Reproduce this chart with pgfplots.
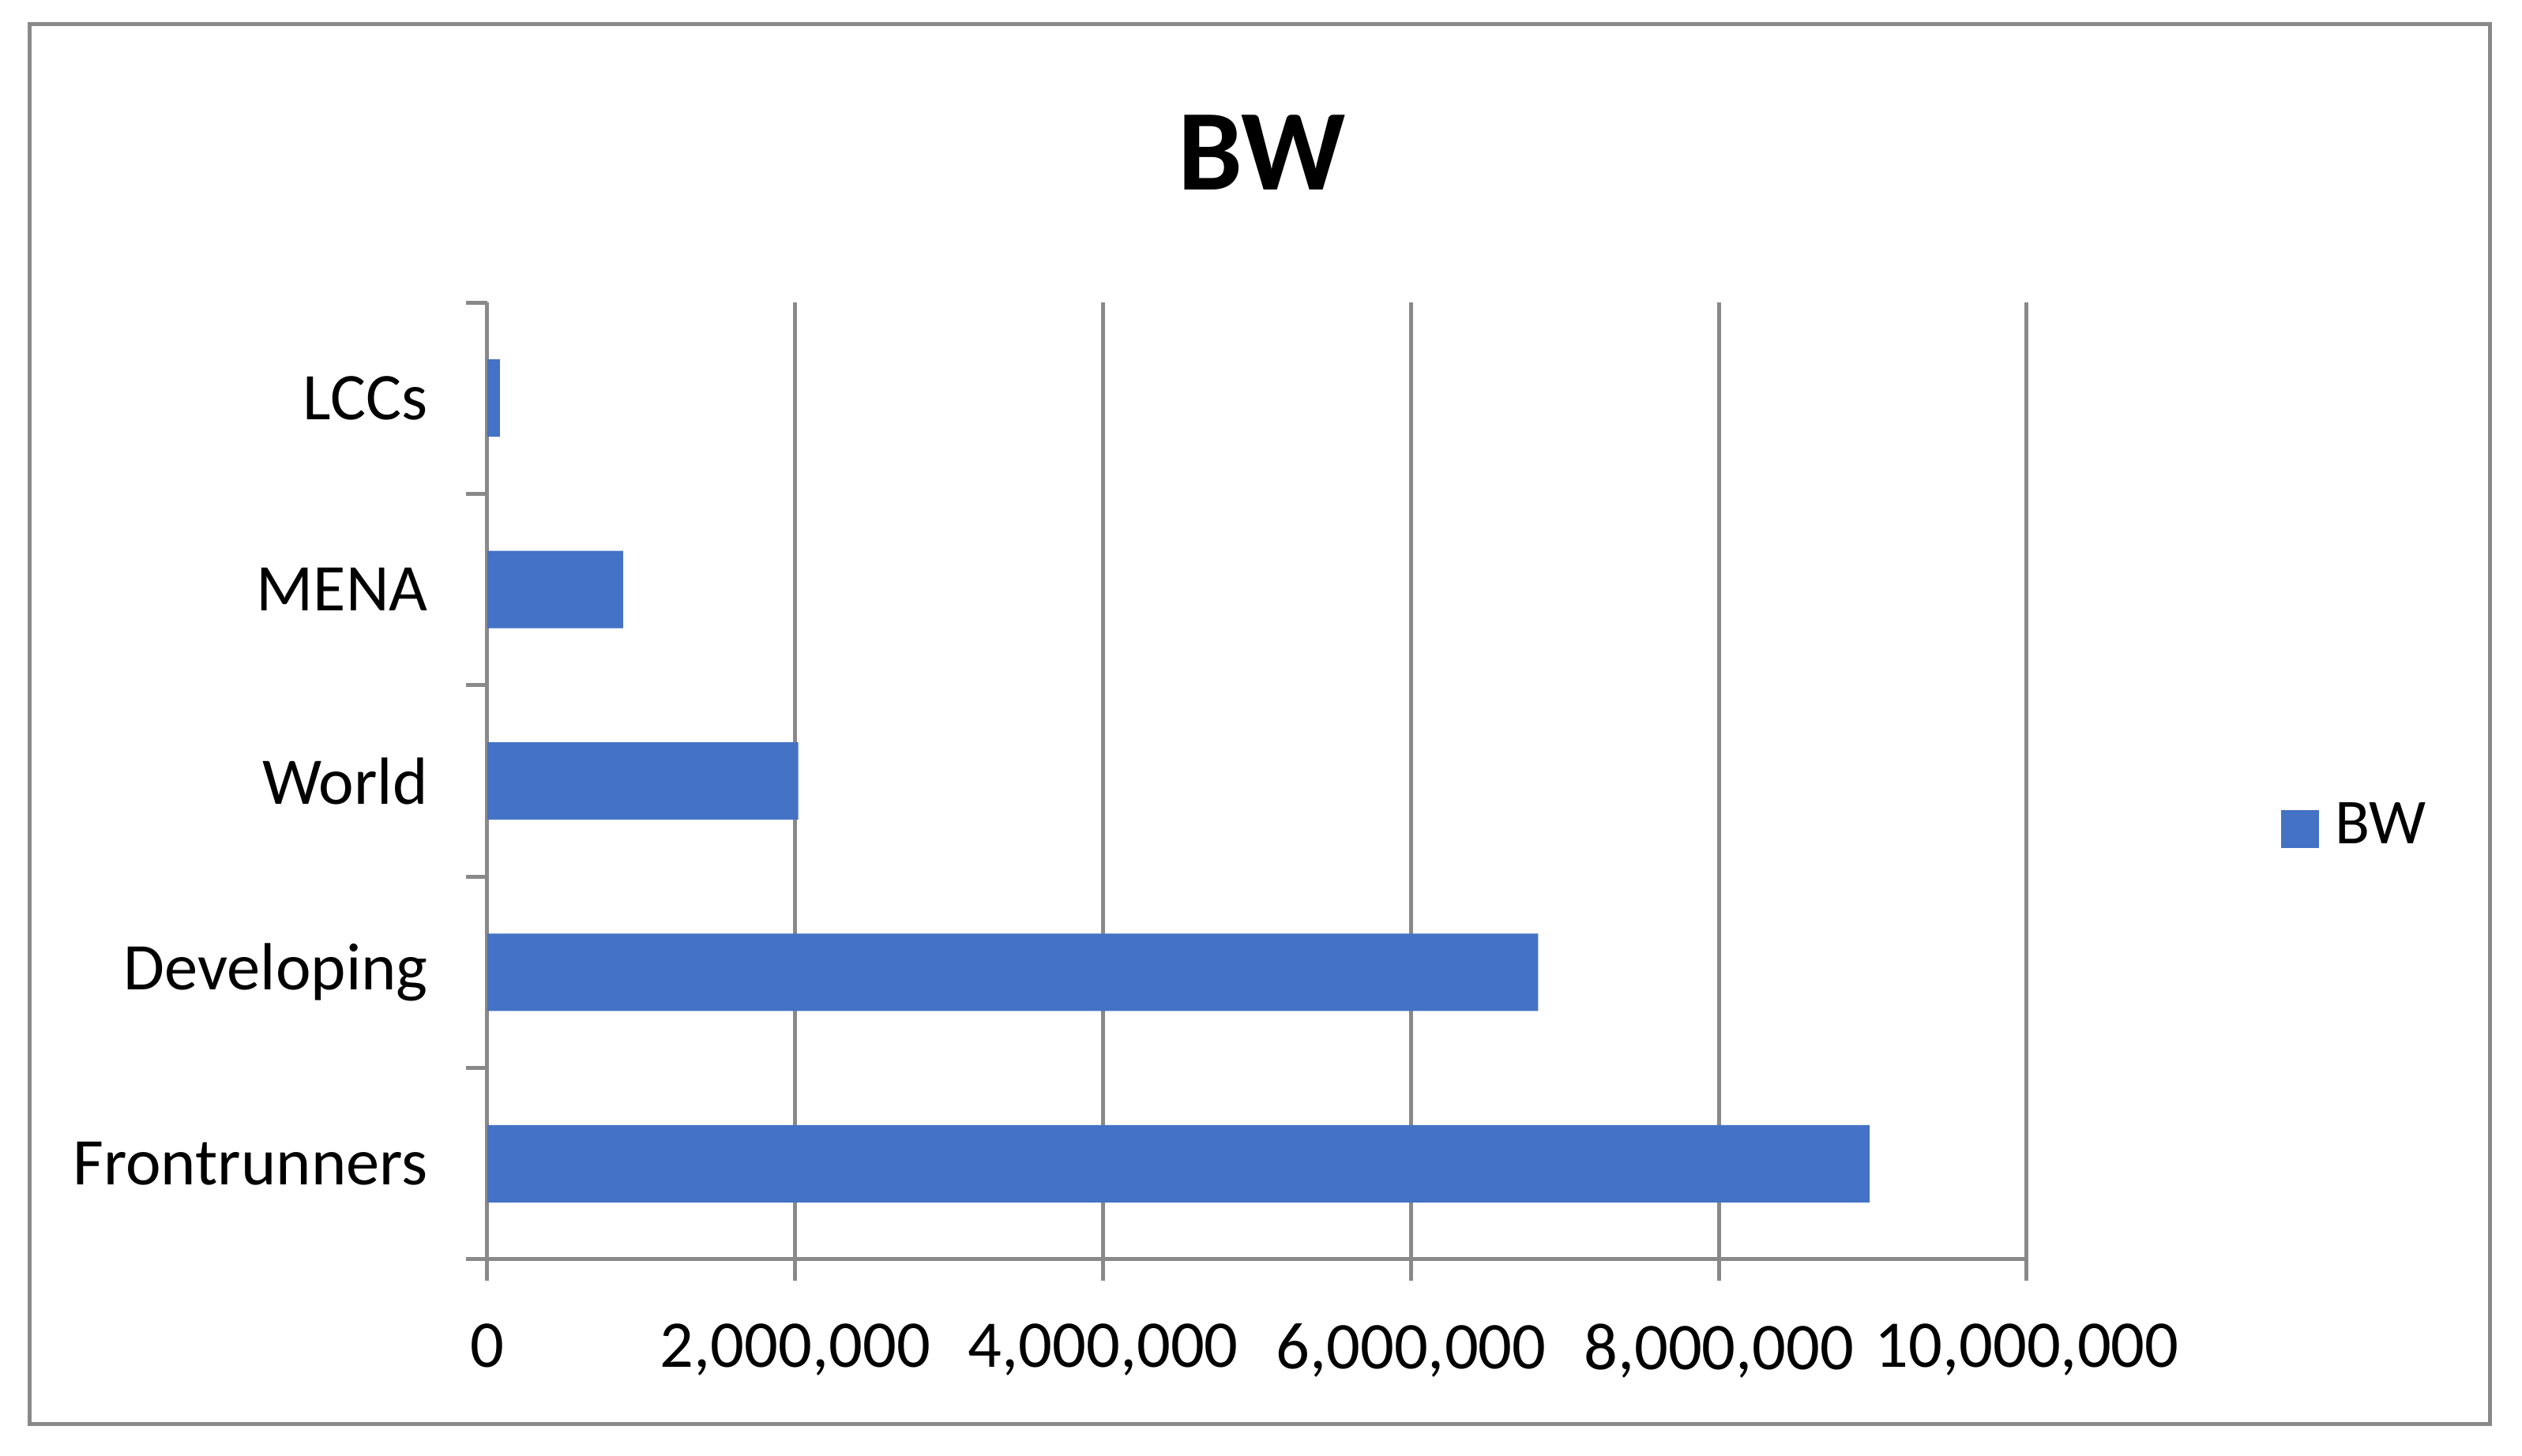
\documentclass[border=0pt]{standalone}
\usepackage{fontspec}
\setmainfont{Carlito}
\usepackage{pgfplots}
\pgfplotsset{compat=1.18}
\definecolor{barblue}{HTML}{4472C4}
\definecolor{linegray}{HTML}{898989}
\begin{document}
\begin{tikzpicture}
\useasboundingbox (0,0) rectangle (319.3pt,184.4pt);
\fill[white] (0,0) rectangle (319.3pt,184.4pt);
\draw[linegray, line width=0.5pt] (3.7pt,4.0pt) rectangle (315.2pt,181.3pt);
\begin{axis}[
    at={(61.7pt,24.9pt)}, anchor=south west,
    width=194.9pt, height=121.2pt, scale only axis,
    xbar, bar width=9.8pt,
    xmin=0, xmax=10000000, ymin=-0.5, ymax=4.5,
    axis lines*=left,
    axis line style={linegray, line width=0.5pt},
    tick align=outside,
    major tick length=2.7pt, minor tick length=2.7pt,
    tick style={linegray, line width=0.5pt},
    xtick={0,2000000,4000000,6000000,8000000,10000000},
    scaled x ticks=false,
    xticklabel style={yshift=-1.9pt,
        /pgf/number format/fixed,
        /pgf/number format/1000 sep={,},
        /pgf/number format/assume math mode=true},
    xmajorgrids, major grid style={linegray, line width=0.5pt},
    ytick={-0.5,0.5,1.5,2.5,3.5,4.5}, yticklabels={,,,,,},
    extra y ticks={0,1,2,3,4},
    extra y tick labels={Frontrunners,Developing,World,MENA,LCCs},
    extra y tick style={major tick length=0pt, yticklabel style={xshift=-4.0pt}},
    tick label style={font=\fontsize{8.45}{10}\selectfont},
    title={BW},
    title style={at={(0.503,1.1075)}, anchor=center, font=\fontsize{14.6}{17}\selectfont\bfseries},
    legend style={at={(1.149,0.45)}, anchor=west, draw=none, fill=none, font=\fontsize{8.1}{9.7}\selectfont},
    legend image code/.code={\fill[barblue] (0pt,-2.4pt) rectangle (4.8pt,2.4pt);},
]
\addplot[fill=barblue, draw=none] coordinates {(8980000,0) (6826000,1) (2020000,2) (882000,3) (82000,4)};
\addlegendentry{BW}
\end{axis}
\end{tikzpicture}
\end{document}
